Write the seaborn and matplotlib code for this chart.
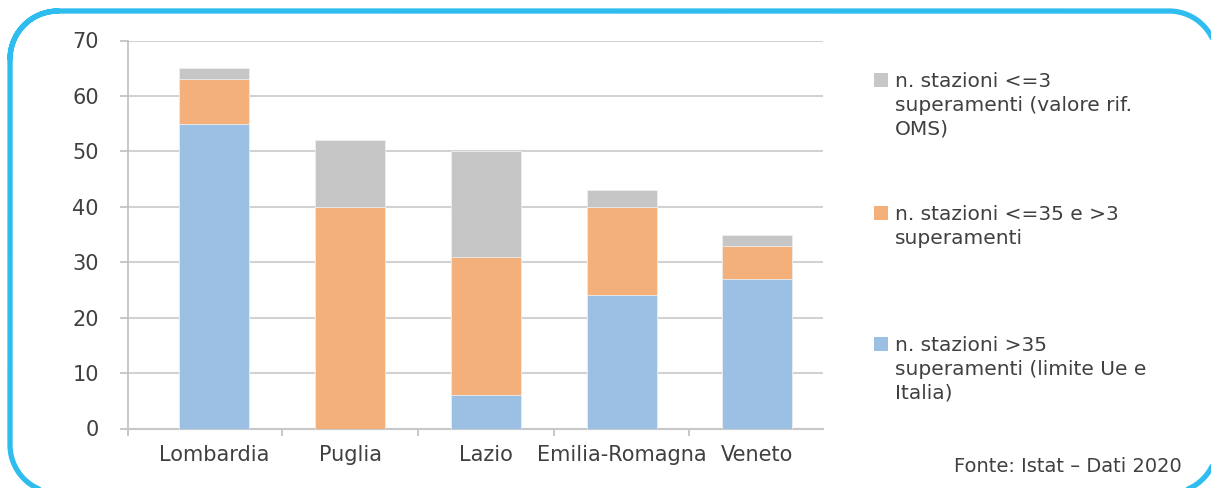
import matplotlib
matplotlib.use("Agg")
import numpy as np
import pandas as pd
import seaborn as sns
import matplotlib.pyplot as plt
from matplotlib.patches import Rectangle

# data
regions = ["Lombardia", "Puglia", "Lazio", "Emilia-Romagna", "Veneto"]
over_35 = [55, 0, 6, 24, 27]        # n. stazioni >35 superamenti
between_3_35 = [8, 40, 25, 16, 6]   # n. stazioni <=35 e >3 superamenti
up_to_3 = [2, 12, 19, 3, 2]         # n. stazioni <=3 superamenti
y_ticks = [0, 10, 20, 30, 40, 50, 60, 70]

labels = [
    "n. stazioni <=3\nsuperamenti (valore rif.\nOMS)",
    "n. stazioni <=35 e >3\nsuperamenti",
    "n. stazioni >35\nsuperamenti (limite Ue e\nItalia)",
]
source = "Fonte: Istat \u2013 Dati 2020"

gray = "#C6C6C6"
orange = "#F4B07B"
blue = "#9BC0E4"
text_col = "#404040"

sns.set_style("white")
plt.rcParams["font.family"] = ["DejaVu Sans"]


def rounded_outline(x0, y0, x1, y1, r, n=40):
    """polyline of a rounded rectangle in pixel units (y pointing down)"""
    corners = [
        (x0 + r, y0 + r, np.pi, 1.5 * np.pi),
        (x1 - r, y0 + r, 1.5 * np.pi, 2 * np.pi),
        (x1 - r, y1 - r, 0, 0.5 * np.pi),
        (x0 + r, y1 - r, 0.5 * np.pi, np.pi),
    ]
    xs, ys = [], []
    for cx, cy, a0, a1 in corners:
        t = np.linspace(a0, a1, n)
        xs.extend(cx + r * np.cos(t))
        ys.extend(cy + r * np.sin(t))
    # overlap the first arc so the closing join is seamless
    xs.extend(xs[:n])
    ys.extend(ys[:n])
    return xs, ys


# cumulative heights for the stacked bars
df = pd.DataFrame({"regione": regions,
                   "blu": over_35,
                   "arancio": between_3_35,
                   "grigio": up_to_3})
df["cum_arancio"] = df["blu"] + df["arancio"]
df["cum_grigio"] = df["cum_arancio"] + df["grigio"]

W, H = 1211, 488
fig = plt.figure(figsize=(W / 100, H / 100), dpi=100)

# overlay axes in pixel units (y down) for frame and legend
bg = fig.add_axes([0, 0, 1, 1])
bg.set_xlim(0, W)
bg.set_ylim(H, 0)
bg.axis("off")
bg.patch.set_alpha(0)

ax = fig.add_axes([128 / W, 1 - 428.5 / H, (823.3 - 128) / W, (428.5 - 40.5) / H])

bw = 0.516
for col, c in [("cum_grigio", gray), ("cum_arancio", orange), ("blu", blue)]:
    sns.barplot(data=df, x="regione", y=col, color=c, saturation=1,
                width=bw, edgecolor="#EEEEEE", linewidth=0.6, ax=ax, zorder=3)

ax.set_xlim(-0.636, 4.486)
ax.set_ylim(0, 70)
ax.set_yticks(y_ticks)
ax.set_xlabel("")
ax.set_ylabel("")
ax.patch.set_alpha(0)

# grid and axes
ax.yaxis.grid(True, color="#D2D2D2", linewidth=1.5, zorder=0)
ax.set_axisbelow(True)
for s in ["top", "right"]:
    ax.spines[s].set_visible(False)
ax.spines["left"].set_color("#BFBFBF")
ax.spines["left"].set_linewidth(1.2)
ax.spines["bottom"].set_color("#C8C8C8")
ax.spines["bottom"].set_linewidth(1.5)

ax.tick_params(axis="y", length=6, width=1.2, color="#BFBFBF", pad=15,
               labelsize=15, labelcolor=text_col, left=True)
ax.tick_params(axis="x", which="major", length=0, pad=12,
               labelsize=15, labelcolor=text_col)
ax.set_xticks([-0.636, 0.5, 1.5, 2.5, 3.5], minor=True)
ax.tick_params(axis="x", which="minor", length=5, width=1.2, color="#BFBFBF",
               bottom=True)

# legend drawn as squares + wrapped text to the right
leg_tops = [73, 206, 337]
for lab, c, top in zip(labels, [gray, orange, blue], leg_tops):
    bg.add_patch(Rectangle((874, top), 14, 14, facecolor=c, edgecolor="none"))
    bg.text(895, top - 1, lab, ha="left", va="top",
            fontsize=14.5, color=text_col, linespacing=1.32)

bg.text(1182, 467, source, ha="right", va="center",
        fontsize=14, color=text_col)

# rounded blue frame, partly outside the canvas
fx, fy = rounded_outline(10, 11, 1217, 493, 48)
bg.plot(fx, fy, color="#2EBDEE", linewidth=3.8, clip_on=False,
        solid_joinstyle="round", solid_capstyle="round")

fig.savefig("out.png", dpi=100)
